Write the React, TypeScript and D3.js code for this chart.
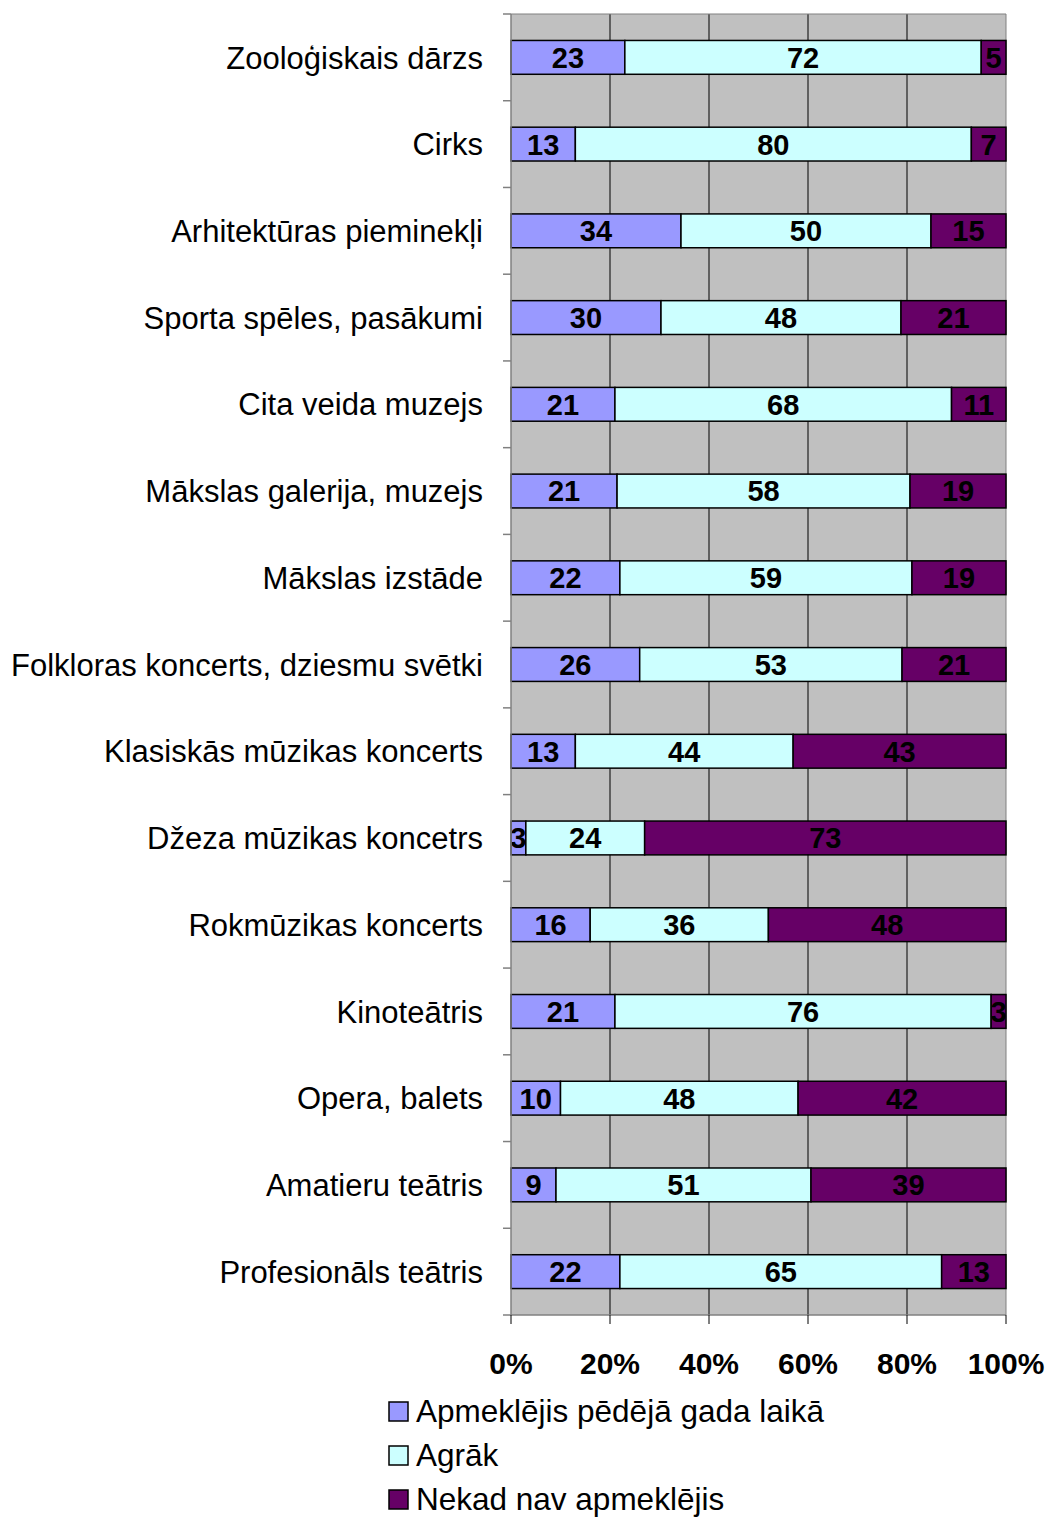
import React from "react";
import * as d3 from "d3";

const categories = [
  "Zooloģiskais dārzs",
  "Cirks",
  "Arhitektūras pieminekļi",
  "Sporta spēles, pasākumi",
  "Cita veida muzejs",
  "Mākslas galerija, muzejs",
  "Mākslas izstāde",
  "Folkloras koncerts, dziesmu svētki",
  "Klasiskās mūzikas koncerts",
  "Džeza mūzikas koncetrs",
  "Rokmūzikas koncerts",
  "Kinoteātris",
  "Opera, balets",
  "Amatieru teātris",
  "Profesionāls teātris",
];

const lastYear = [23, 13, 34, 30, 21, 21, 22, 26, 13, 3, 16, 21, 10, 9, 22];
const earlier = [72, 80, 50, 48, 68, 58, 59, 53, 44, 24, 36, 76, 48, 51, 65];
const never = [5, 7, 15, 21, 11, 19, 19, 21, 43, 73, 48, 3, 42, 39, 13];

const seriesNames = ["Apmeklējis pēdējā gada laikā", "Agrāk", "Nekad nav apmeklējis"];
const seriesColors = ["#9999FF", "#CCFFFF", "#660066"];
const xTicks = [0, 20, 40, 60, 80, 100];

export default function App() {
  const W = 1047;
  const H = 1517;
  const left = 511;
  const right = 1006;
  const top = 14;
  const bottom = 1315;
  const font = "'Liberation Sans', Arial, sans-serif";

  const x = d3.scaleLinear().domain([0, 100]).range([left, right]);
  const y = d3.scaleBand<string>().domain(categories).range([top, bottom]).paddingInner(0.61).paddingOuter(0.305);

  const rows = categories.map((c, i) => ({ cat: c, v: [lastYear[i], earlier[i], never[i]] }));
  const stack = d3.stack<any>().keys(["0", "1", "2"]).value((d: any, k: string) => d.v[+k] / (d.v[0] + d.v[1] + d.v[2]) * 100);
  const stacked = stack(rows as any);

  const step = y.step();
  const bw = y.bandwidth();

  return (
    <svg width={W} height={H} style={{ display: "block", position: "absolute", left: 0, top: 0 }}>
      <rect x={0} y={0} width={W} height={H} fill="#fff" />
      <rect x={left} y={top} width={right - left} height={bottom - top} fill="#C0C0C0" />
      {xTicks.slice(1, -1).map((t) => (
        <line key={t} x1={x(t)} x2={x(t)} y1={top} y2={bottom} stroke="#000" strokeWidth={1} />
      ))}
      <line x1={right} x2={right} y1={top} y2={bottom} stroke="#808080" strokeWidth={1} />
      <line x1={left} x2={right} y1={top} y2={top} stroke="#808080" strokeWidth={1} />
      {stacked.map((s, si) =>
        s.map((d: any, i: number) => (
          <rect
            key={si + "-" + i}
            x={x(d[0])}
            y={y(categories[i])!}
            width={x(d[1]) - x(d[0])}
            height={bw}
            fill={seriesColors[si]}
            stroke="#000"
            strokeWidth={1.5}
          />
        ))
      )}
      {stacked.map((s, si) =>
        s.map((d: any, i: number) => (
          <text
            key={"t" + si + "-" + i}
            x={(x(d[0]) + x(d[1])) / 2}
            y={y(categories[i])! + bw / 2}
            dy="0.36em"
            textAnchor="middle"
            fontFamily={font}
            fontWeight="bold"
            fontSize={29}
            fill="#000"
          >
            {rows[i].v[si]}
          </text>
        ))
      )}
      {/* axes */}
      <line x1={left} x2={left} y1={top} y2={bottom} stroke="#808080" strokeWidth={1.5} />
      <line x1={left} x2={right} y1={bottom} y2={bottom} stroke="#808080" strokeWidth={1.5} />
      {d3.range(categories.length + 1).map((k) => (
        <line key={"yt" + k} x1={left - 8} x2={left} y1={top + k * step} y2={top + k * step} stroke="#808080" strokeWidth={1.5} />
      ))}
      {xTicks.map((t) => (
        <line key={"xt" + t} x1={x(t)} x2={x(t)} y1={bottom} y2={bottom + 9} stroke="#000" strokeWidth={1} />
      ))}
      {xTicks.map((t) => (
        <text key={"xl" + t} x={x(t)} y={1374} textAnchor="middle" fontFamily={font} fontWeight="bold" fontSize={30} fill="#000">
          {t + "%"}
        </text>
      ))}
      {categories.map((c) => (
        <text key={"c" + c} x={483} y={y(c)! + bw / 2} dy="0.36em" textAnchor="end" fontFamily={font} fontSize={31} fill="#000">
          {c}
        </text>
      ))}
      {seriesNames.map((n, i) => (
        <g key={"lg" + i}>
          <rect x={389} y={1402 + i * 44} width={19} height={19} fill={seriesColors[i]} stroke="#000" strokeWidth={1.5} />
          <text x={416} y={1411 + i * 44} dy="0.35em" fontFamily={font} fontSize={31.5} fill="#000">
            {n}
          </text>
        </g>
      ))}
    </svg>
  );
}
